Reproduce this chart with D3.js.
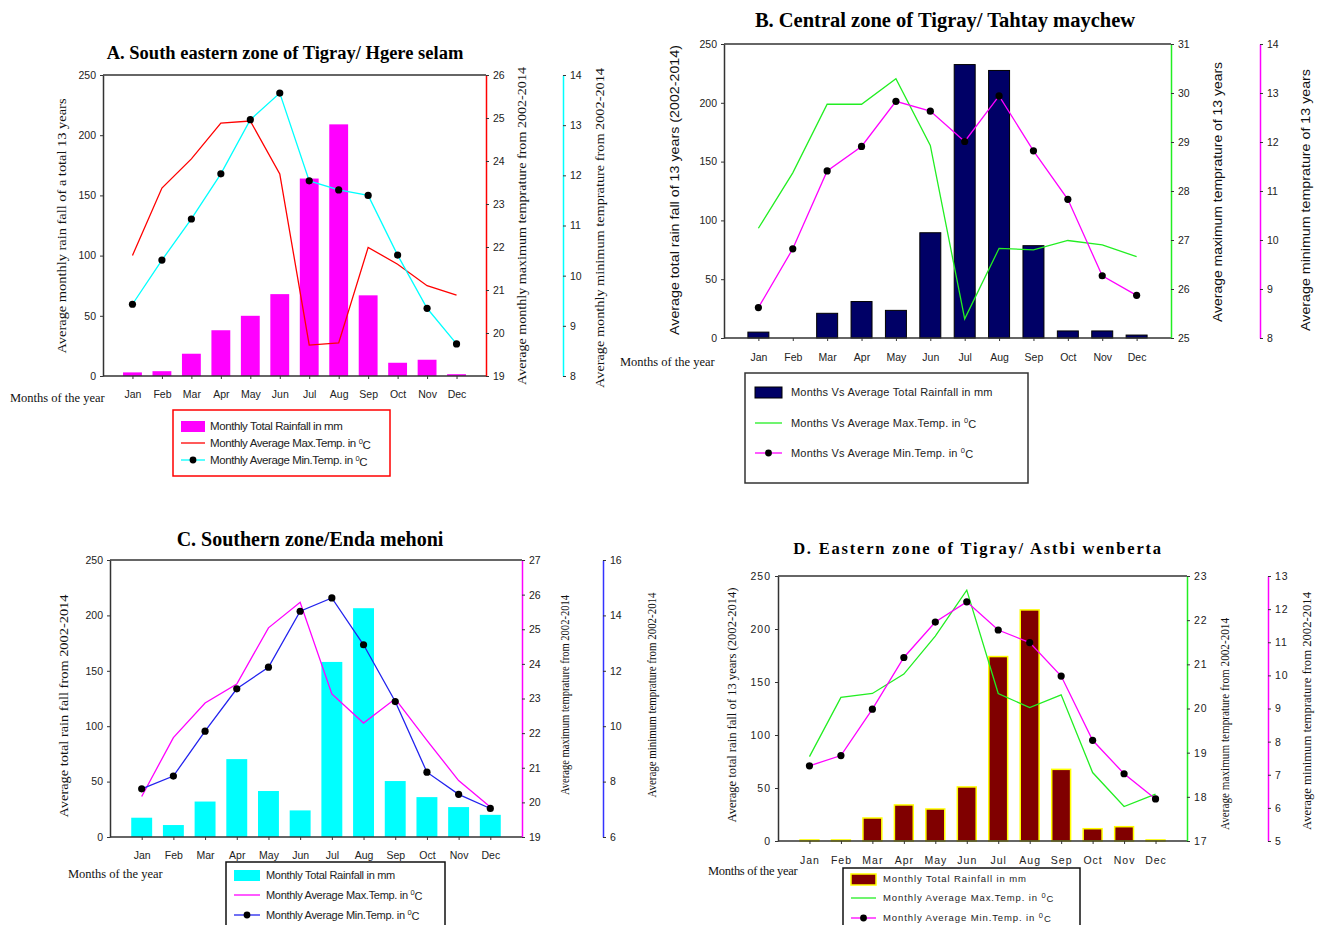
<!doctype html>
<html>
<head>
<meta charset="utf-8">
<title>Tigray rainfall and temperature</title>
<script src="https://d3js.org/d3.v7.min.js"></script>
<style>
  body { margin: 0; background: #fff; }
  .tick text { font-family: "Liberation Sans", Arial, sans-serif; font-size: 10.5px; fill: #222; }
</style>
</head>
<body>
<div id="chart"></div>
<script>
// months and values
var months = ["Jan","Feb","Mar","Apr","May","Jun","Jul","Aug","Sep","Oct","Nov","Dec"];
var rainTicks = [0, 50, 100, 150, 200, 250];

// A. Hgere selam
var rainA = [3, 4, 18.5, 38, 50, 68, 164, 209, 67, 11, 13.5, 1.5];
var maxA  = [21.8, 23.37, 24.05, 24.88, 24.93, 23.7, 19.72, 19.77, 21.99, 21.6, 21.1, 20.88];
var minA  = [9.43, 10.31, 11.13, 12.03, 13.11, 13.64, 11.89, 11.71, 11.6, 10.41, 9.35, 8.64];
var maxTicksA = [19, 20, 21, 22, 23, 24, 25, 26];
var minTicksA = [8, 9, 10, 11, 12, 13, 14];

// B. Tahtay maychew
var rainB = [5, 0, 21, 31, 23.5, 89.5, 232.5, 227.5, 78.5, 6, 6, 2.5];
var maxB  = [27.24, 28.37, 29.77, 29.77, 30.29, 28.93, 25.39, 26.83, 26.8, 26.99, 26.9, 26.66];
var minB  = [8.62, 9.82, 11.41, 11.91, 12.83, 12.63, 12.01, 12.94, 11.82, 10.83, 9.27, 8.87];
var maxTicksB = [25, 26, 27, 28, 29, 30, 31];
var minTicksB = [8, 9, 10, 11, 12, 13, 14];

// C. Enda mehoni
var rainC = [17.4, 10.8, 32, 70.3, 41.5, 24, 158, 206.5, 50.5, 36, 27, 20];
var maxC  = [20.17, 21.87, 22.87, 23.42, 25.04, 25.78, 23.13, 22.29, 22.99, 21.79, 20.63, 19.87];
var minC  = [7.74, 8.2, 9.82, 11.35, 12.13, 14.15, 14.63, 12.94, 10.89, 8.34, 7.54, 7.03];
var maxTicksC = [19, 20, 21, 22, 23, 24, 25, 26, 27];
var minTicksC = [6, 8, 10, 12, 14, 16];

// D. Astbi wenberta
var rainD = [1, 1, 21.7, 34, 30.2, 51, 174, 218, 67.6, 11.6, 13.5, 1];
var maxD  = [18.91, 20.25, 20.34, 20.78, 21.64, 22.68, 20.34, 20.02, 20.31, 18.55, 17.78, 18.06];
var minD  = [7.27, 7.58, 8.98, 10.54, 11.61, 12.22, 11.37, 10.99, 9.98, 8.04, 7.03, 6.27];
var maxTicksD = [17, 18, 19, 20, 21, 22, 23];
var minTicksD = [5, 6, 7, 8, 9, 10, 11, 12, 13];

var W = 1323, H = 925;
var svg = d3.select("#chart").append("svg")
  .attr("width", W).attr("height", H)
  .style("background", "#fff");

var serif = "'Liberation Serif', 'Times New Roman', serif";
var sans = "'Liberation Sans', Arial, sans-serif";
var fmt = d3.format("d");

var panels = [
  { title: "A. South eastern zone of Tigray/ Hgere selam", tx: 285, ty: 59, tsize: 18.5, tspace: 0,
    rain: rainA, tmax: maxA, tmin: minA, maxDom: [19, 26], minDom: [8, 14], maxTicks: maxTicksA, minTicks: minTicksA,
    x0: 103, x1: 486, yT: 75, yB: 376, ax2: 563,
    barFill: "#ff00ff", barStroke: "none", barSW: 0, barW: 0.64,
    maxCol: "#ff0000", minCol: "#00ffff", ax1Col: "#ff0000", ax2Col: "#00ffff",
    labFont: serif, labSize: 12.5,
    lab0: "Average monthly rain fall of a total 13 years", l0x: 62, l0y: 226, l0len: 255,
    lab1: "Average monthly maximum temprature from  2002-2014", l1x: 522, l1y: 226, l1len: 318,
    lab2: "Average monthly minimum temprature from  2002-2014", l2x: 600, l2y: 228, l2len: 320,
    monY: 396, mx: 10, my: 402, mspace: 0,
    leg: { x: 173, y: 410, w: 217, h: 66, stroke: "#ff0000", sw: 1.5, sx: 181, sw2: 24, tx: 210, ys: [426, 443, 460], size: 11.5, ls: -0.4,
      texts: ["Monthly Total Rainfall in mm", "Monthly Average Max.Temp. in ", "Monthly Average Min.Temp. in "] } },
  { title: "B. Central zone of Tigray/ Tahtay maychew", tx: 945, ty: 27, tsize: 20.5, tspace: 0,
    rain: rainB, tmax: maxB, tmin: minB, maxDom: [25, 31], minDom: [8, 14], maxTicks: maxTicksB, minTicks: minTicksB,
    x0: 724, x1: 1171, yT: 44, yB: 338, ax2: 1260,
    barFill: "#000066", barStroke: "#000", barSW: 1, barW: 0.61,
    maxCol: "#22ee22", minCol: "#ff00ff", ax1Col: "#22ee22", ax2Col: "#ff00ff",
    labFont: sans, labSize: 12,
    lab0: "Average total rain fall of 13  years (2002-2014)", l0x: 675, l0y: 190, l0len: 290,
    lab1: "Average maximum temprature of 13  years", l1x: 1218, l1y: 192, l1len: 260,
    lab2: "Average minimum temprature of 13  years", l2x: 1306, l2y: 200, l2len: 262,
    monY: 359, mx: 620, my: 366, mspace: 0,
    leg: { x: 745, y: 373, w: 283, h: 110, stroke: "#333", sw: 1.5, sx: 755, sw2: 27, tx: 791, ys: [392, 423, 453], size: 11, ls: 0.2,
      texts: ["Months Vs Average Total Rainfall in mm", "Months Vs Average Max.Temp. in ", "Months Vs Average Min.Temp. in "] } },
  { title: "C. Southern zone/Enda mehoni", tx: 310, ty: 546, tsize: 20, tspace: 0,
    rain: rainC, tmax: maxC, tmin: minC, maxDom: [19, 27], minDom: [6, 16], maxTicks: maxTicksC, minTicks: minTicksC,
    x0: 110, x1: 522, yT: 560, yB: 837, ax2: 603,
    barFill: "#00ffff", barStroke: "none", barSW: 0, barW: 0.66,
    maxCol: "#ff00ff", minCol: "#2222ee", ax1Col: "#ff00ff", ax2Col: "#3333ff",
    labFont: serif, labSize: 12,
    lab0: "Average total rain fall from  2002-2014", l0x: 64, l0y: 706, l0len: 223,
    lab1: "Average maximum temprature from  2002-2014", l1x: 565, l1y: 695, l1len: 200,
    lab2: "Average minimum temprature from  2002-2014", l2x: 652, l2y: 695, l2len: 205,
    monY: 857, mx: 68, my: 878, mspace: 0,
    leg: { x: 226, y: 862, w: 219, h: 70, stroke: "#111", sw: 1.5, sx: 234, sw2: 26, tx: 266, ys: [875, 895, 915], size: 11, ls: -0.3,
      texts: ["Monthly Total Rainfall in mm", "Monthly Average Max.Temp. in ", "Monthly Average Min.Temp. in "] } },
  { title: "D. Eastern zone of Tigray/ Astbi wenberta", tx: 978, ty: 554, tsize: 16.5, tspace: 1.8,
    rain: rainD, tmax: maxD, tmin: minD, maxDom: [17, 23], minDom: [5, 13], maxTicks: maxTicksD, minTicks: minTicksD,
    x0: 778, x1: 1187, yT: 576, yB: 841, ax2: 1268,
    barFill: "#800000", barStroke: "#ffff00", barSW: 1.5, barW: 0.6,
    maxCol: "#22ee22", minCol: "#ff00ff", ax1Col: "#22ee22", ax2Col: "#ff00ff",
    labFont: serif, labSize: 12,
    lab0: "Average total rain fall of  13 years (2002-2014)", l0x: 732, l0y: 705, l0len: 235,
    lab1: "Average maximum temprature from  2002-2014", l1x: 1225, l1y: 724, l1len: 212,
    lab2: "Average minimum temprature from  2002-2014", l2x: 1307, l2y: 711, l2len: 238,
    monY: 862, mx: 708, my: 875, mspace: -0.3,
    leg: { x: 843, y: 868, w: 237, h: 64, stroke: "#111", sw: 1.5, sx: 851, sw2: 25, tx: 883, ys: [879, 898, 918], size: 9.5, ls: 0.9,
      texts: ["Monthly Total Rainfall in mm", "Monthly Average Max.Temp. in ", "Monthly Average Min.Temp. in "] } }
];

function vlabel(g, txt, x, y, len, font, size) {
  g.append("text")
    .attr("transform", "translate(" + x + "," + y + ") rotate(-90)")
    .attr("text-anchor", "middle")
    .attr("dy", "0.35em")
    .attr("textLength", len)
    .attr("lengthAdjust", "spacingAndGlyphs")
    .style("font-family", font).style("font-size", size + "px").style("fill", "#111")
    .text(txt);
}

function styleAxis(g, col) {
  g.select(".domain").attr("stroke", col).attr("stroke-width", 1.5);
  g.selectAll(".tick line").attr("stroke", "#333");
}

panels.forEach(function(p) {
  var g = svg.append("g");

  var x = d3.scalePoint().domain(months).range([p.x0, p.x1]).padding(1);
  var yR = d3.scaleLinear().domain([0, 250]).range([p.yB, p.yT]);
  var yMax = d3.scaleLinear().domain(p.maxDom).range([p.yB, p.yT]);
  var yMin = d3.scaleLinear().domain(p.minDom).range([p.yB, p.yT]);
  var bw = x.step() * p.barW;

  // title
  g.append("text")
    .attr("x", p.tx).attr("y", p.ty)
    .attr("text-anchor", "middle")
    .style("font-family", serif).style("font-weight", "bold")
    .style("font-size", p.tsize + "px").style("letter-spacing", p.tspace + "px")
    .text(p.title);

  // top frame line
  g.append("line")
    .attr("x1", p.x0).attr("x2", p.x1).attr("y1", p.yT).attr("y2", p.yT)
    .attr("stroke", "#333").attr("stroke-width", 1.5);

  // bars
  g.selectAll("rect.bar").data(p.rain).enter().append("rect")
    .attr("class", "bar")
    .attr("x", function(d, i) { return x(months[i]) - bw / 2; })
    .attr("y", function(d) { return yR(d); })
    .attr("width", bw)
    .attr("height", function(d) { return p.yB - yR(d); })
    .attr("fill", p.barFill)
    .attr("stroke", function(d) { return d > 0 ? p.barStroke : "none"; })
    .attr("stroke-width", p.barSW);

  // axes
  var ax0 = g.append("g").attr("transform", "translate(" + p.x0 + ",0)")
    .call(d3.axisLeft(yR).tickValues(rainTicks).tickFormat(fmt).tickSize(3).tickSizeOuter(0).tickPadding(4));
  styleAxis(ax0, "#333");

  var axB = g.append("g").attr("transform", "translate(0," + p.yB + ")")
    .call(d3.axisBottom(x).tickSize(3).tickSizeOuter(0).tickPadding(p.monY - p.yB - 8));
  axB.select(".domain").attr("stroke", "#333").attr("stroke-width", 1.5)
    .attr("d", "M" + p.x0 + ",0H" + p.x1);
  axB.selectAll(".tick line").attr("stroke", "#333");

  var ax1 = g.append("g").attr("transform", "translate(" + p.x1 + ",0)")
    .call(d3.axisRight(yMax).tickValues(p.maxTicks).tickFormat(fmt).tickSize(3).tickSizeOuter(0).tickPadding(4));
  styleAxis(ax1, p.ax1Col);

  var ax2 = g.append("g").attr("transform", "translate(" + p.ax2 + ",0)")
    .call(d3.axisRight(yMin).tickValues(p.minTicks).tickFormat(fmt).tickSize(3).tickSizeOuter(0).tickPadding(4));
  styleAxis(ax2, p.ax2Col);

  if (p.tspace) g.selectAll(".tick text").style("letter-spacing", "1px");

  // lines
  var lineMax = d3.line().x(function(d, i) { return x(months[i]); }).y(function(d) { return yMax(d); });
  var lineMin = d3.line().x(function(d, i) { return x(months[i]); }).y(function(d) { return yMin(d); });

  g.append("path").datum(p.tmax).attr("d", lineMax)
    .attr("fill", "none").attr("stroke", p.maxCol).attr("stroke-width", 1.3);
  g.append("path").datum(p.tmin).attr("d", lineMin)
    .attr("fill", "none").attr("stroke", p.minCol).attr("stroke-width", 1.3);
  g.selectAll("circle.pt").data(p.tmin).enter().append("circle")
    .attr("class", "pt")
    .attr("cx", function(d, i) { return x(months[i]); })
    .attr("cy", function(d) { return yMin(d); })
    .attr("r", 3.6).attr("fill", "#000");

  // axis titles
  vlabel(g, p.lab0, p.l0x, p.l0y, p.l0len, p.labFont, p.labSize);
  vlabel(g, p.lab1, p.l1x, p.l1y, p.l1len, p.labFont, p.labSize);
  vlabel(g, p.lab2, p.l2x, p.l2y, p.l2len, p.labFont, p.labSize);

  g.append("text").attr("x", p.mx).attr("y", p.my)
    .style("font-family", serif).style("font-size", "12.5px").style("fill", "#111")
    .style("letter-spacing", p.mspace + "px")
    .text("Months of the year");

  // legend
  var L = p.leg;
  g.append("rect").attr("x", L.x).attr("y", L.y).attr("width", L.w).attr("height", L.h)
    .attr("fill", "#fff").attr("stroke", L.stroke).attr("stroke-width", L.sw);
  g.append("rect").attr("x", L.sx).attr("y", L.ys[0] - 5).attr("width", L.sw2).attr("height", 11)
    .attr("fill", p.barFill).attr("stroke", p.barStroke).attr("stroke-width", p.barSW);
  g.append("line").attr("x1", L.sx).attr("x2", L.sx + L.sw2).attr("y1", L.ys[1]).attr("y2", L.ys[1])
    .attr("stroke", p.maxCol).attr("stroke-width", 1.3);
  g.append("line").attr("x1", L.sx).attr("x2", L.sx + L.sw2).attr("y1", L.ys[2]).attr("y2", L.ys[2])
    .attr("stroke", p.minCol).attr("stroke-width", 1.3);
  g.append("circle").attr("cx", L.sx + L.sw2 / 2).attr("cy", L.ys[2]).attr("r", 3.4).attr("fill", "#000");

  L.texts.forEach(function(t, i) {
    var tt = g.append("text").attr("x", L.tx).attr("y", L.ys[i]).attr("dy", "0.35em")
      .style("font-family", sans).style("font-size", L.size + "px").style("fill", "#222")
      .style("letter-spacing", L.ls + "px")
      .text(t);
    if (i > 0) {
      tt.append("tspan").attr("dy", "-0.45em").style("font-size", "7.5px").text("0");
      tt.append("tspan").attr("dy", "0.45em").text("C");
    }
  });
});
</script>
</body>
</html>
